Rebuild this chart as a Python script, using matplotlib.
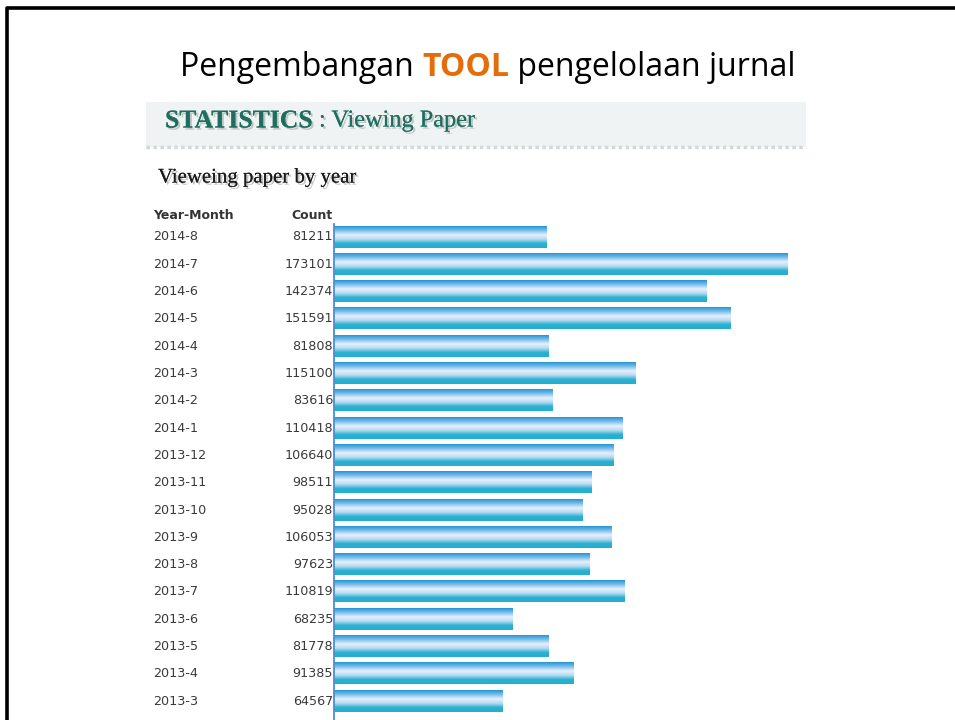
import matplotlib
matplotlib.use("Agg")
import matplotlib.pyplot as plt
import matplotlib.patheffects as pe
from matplotlib.patches import Rectangle
from matplotlib.colors import LinearSegmentedColormap
import numpy as np

# ---- data ----
year_month = ["2014-8", "2014-7", "2014-6", "2014-5", "2014-4", "2014-3", "2014-2",
              "2014-1", "2013-12", "2013-11", "2013-10", "2013-9", "2013-8", "2013-7",
              "2013-6", "2013-5", "2013-4", "2013-3"]
counts = [81211, 173101, 142374, 151591, 81808, 115100, 83616, 110418, 106640,
          98511, 95028, 106053, 97623, 110819, 68235, 81778, 91385, 64567]

W, H = 955, 720
fig = plt.figure(figsize=(W / 100, H / 100), dpi=100)
fig.patch.set_facecolor("white")

def fx(px):
    return px / W

def fy(py):
    return 1 - py / H

# slide border (top and left)
bg = fig.add_axes([0, 0, 1, 1])
bg.set_xlim(0, W)
bg.set_ylim(H, 0)
bg.axis("off")
bg.plot([6.5, 6.5, W + 5], [H + 5, 8, 8], color="black", lw=2.6, solid_capstyle="butt")

# panel header band
bg.add_patch(Rectangle((146, 102), 660, 45, facecolor="#eff3f3", edgecolor="none"))
bg.plot([146, 806], [147, 147], color="#d3d8d8", lw=2.5, ls=(0, (1, 1)))

# slide title
fig.canvas.draw()
r = fig.canvas.get_renderer()
t1 = fig.text(fx(180), fy(67), "Pengembangan ", fontsize=23, family="Open Sans",
              color="black", va="center", ha="left")
bb = t1.get_window_extent(r)
t2 = fig.text(bb.x1 / W, fy(67), "TOOL", fontsize=23, family="Open Sans",
              weight="bold", color="#e46c0a", va="center", ha="left")
bb2 = t2.get_window_extent(r)
fig.text(bb2.x1 / W, fy(67), " pengelolaan jurnal", fontsize=23, family="Open Sans",
         color="black", va="center", ha="left")

# panel heading
shadow = [pe.withSimplePatchShadow(offset=(1.5, -1.5), shadow_rgbFace="#9aa8a5", alpha=0.6),
          pe.Normal()]
s1 = fig.text(fx(165), fy(121), "STATISTICS", fontsize=18.5, family="Liberation Serif",
              weight="bold", color="#1e6e60", va="center", ha="left", path_effects=shadow)
sb = s1.get_window_extent(r)
fig.text(sb.x1 / W, fy(121), " : Viewing Paper", fontsize=17.5, family="Liberation Serif",
         color="#1e6e60", va="center", ha="left", path_effects=shadow)

shadow2 = [pe.withSimplePatchShadow(offset=(1.5, -1.5), shadow_rgbFace="#888888", alpha=0.5),
           pe.Normal()]
fig.text(fx(158), fy(178), "Vieweing paper by year", fontsize=15, family="Liberation Serif",
         color="#1a1a1a", va="center", ha="left", path_effects=shadow2)

# column headers
fig.text(fx(153), fy(215), "Year-Month", fontsize=9, weight="bold", family="DejaVu Sans",
         color="#333333", va="center", ha="left")
fig.text(fx(333), fy(215), "Count", fontsize=9, weight="bold", family="DejaVu Sans",
         color="#333333", va="center", ha="right")

# bar axes
ax_left, ax_right, ax_top, ax_bot = 334, 806, 224, 720
ax = fig.add_axes([fx(ax_left), fy(ax_bot), (ax_right - ax_left) / W, (ax_bot - ax_top) / H])
ax.set_facecolor("none")
row0, step = 237, 27.3
px_per_unit = (787 - 334) / 173101

cmap = LinearSegmentedColormap.from_list(
    "grad", ["#2596d6", "#7cc0ea", "#e6efff", "#b5dcf0", "#2ab0d2", "#27aecf"])
grad = np.linspace(0, 1, 64).reshape(-1, 1)
bh = 0.77
ypos = np.arange(len(counts))
bars = ax.barh(ypos, counts, height=bh, color="none", edgecolor="none", zorder=1)
for i, v in enumerate(counts):
    ax.imshow(grad, cmap=cmap, aspect="auto", interpolation="bilinear",
              extent=[0, v, i + bh / 2, i - bh / 2], zorder=2)
ax.set_ylim((ax_bot - row0) / step, (ax_top - row0) / step)
ax.set_xlim(0, (ax_right - ax_left) / px_per_unit)

for s in ["top", "right", "bottom"]:
    ax.spines[s].set_visible(False)
ax.spines["left"].set_color("#4a8fd6")
ax.spines["left"].set_linewidth(1.3)
ax.set_xticks([])
ax.set_yticks([])

for i, (ym, c) in enumerate(zip(year_month, counts)):
    ax.annotate(ym, xy=(0, i), xycoords=("axes fraction", "data"),
                xytext=(-(334 - 153), 0), textcoords="offset pixels",
                fontsize=9.2, family="DejaVu Sans", color="#3a3a3a",
                ha="left", va="center", annotation_clip=False)
    ax.annotate(str(c), xy=(0, i), xycoords=("axes fraction", "data"),
                xytext=(-1, 0), textcoords="offset pixels",
                fontsize=9.2, family="DejaVu Sans", color="#3a3a3a",
                ha="right", va="center", annotation_clip=False)

fig.savefig("out.png", dpi=100)
